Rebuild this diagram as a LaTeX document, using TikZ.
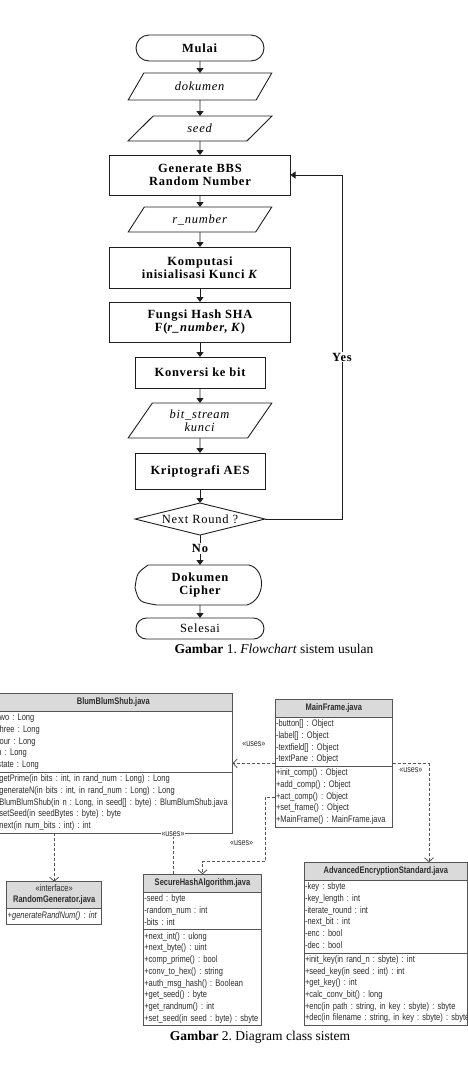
\documentclass[tikz,border=0pt]{standalone}
\usepackage{fontspec}
\setmainfont{Liberation Serif}
\newfontfamily\flowfont[LetterSpace=6]{Liberation Serif}
\newfontfamily\umlfont[FakeStretch=0.79]{Liberation Sans}
\usepackage{tikz}
\usetikzlibrary{positioning,arrows.meta,shapes.geometric,shapes.misc}
\definecolor{flowLine}{RGB}{30,30,30}
\definecolor{umlLine}{RGB}{85,85,85}
\definecolor{umlHead}{RGB}{218,218,218}
\definecolor{umlText}{RGB}{45,45,45}
\frenchspacing
\hyphenpenalty=10000
\exhyphenpenalty=10000

\begin{document}
\begin{tikzpicture}[x=1pt,y=1pt,
                  ftxt/.style={font=\flowfont\fontsize{12.5}{12.7}\selectfont,align=center,inner sep=1pt,outer sep=0pt},
                  fbold/.style={font=\flowfont\bfseries\fontsize{12.5}{12.7}\selectfont},
                  term/.style={ftxt,draw=flowLine,line width=0.9pt,rounded rectangle,minimum width=130pt},
                  io/.style={ftxt,draw=flowLine,line width=0.9pt,trapezium,trapezium stretches=true,trapezium left angle=56,trapezium right angle=124,minimum width=144pt},
                  proc/.style={ftxt,draw=flowLine,line width=0.9pt,rectangle,minimum width=#1},
                  decide/.style={ftxt,draw=flowLine,line width=0.9pt,diamond,aspect=4.5,minimum width=130pt,minimum height=32pt,inner sep=0pt},
                  flow/.style={-{Triangle[length=5pt,width=7pt]},line width=0.9pt,draw=flowLine},
                  capt/.style={font=\fontsize{13.5}{15}\selectfont,inner sep=0pt},
                  uhead/.style={draw=umlLine,fill=umlHead,line width=0.8pt,font=\umlfont\bfseries\fontsize{9.5}{11}\selectfont,text=umlText,align=center,minimum height=18pt,inner sep=1pt,outer sep=0pt,minimum width=#1},
                  ubody/.style={draw=umlLine,fill=white,line width=0.8pt,font=\umlfont\fontsize{9.5}{11.7}\selectfont,text=umlText,align=left,inner xsep=1pt,inner ysep=1.2pt,outer sep=0pt,text width=#1,execute at begin node=\strut,execute at end node=\strut},
                  uses/.style={-{Straight Barb[length=4pt,width=9pt]},draw=umlLine,line width=0.8pt,dash pattern=on 3pt off 2pt},
                  ulabel/.style={font=\umlfont\fontsize{9}{10}\selectfont,text=umlText,inner sep=0.5pt}
                ]
                \useasboundingbox (0,0) rectangle (468,-1071);

                % flowchart
                \node[term,minimum height=26pt] (mulai) at (200,-48) {\textbf{Mulai}};
                \node[io,minimum height=27pt,below=12pt of mulai] (dok) {\textit{dokumen}};
                \node[io,minimum height=25pt,below=16pt of dok] (seed) {\textit{seed}};
                \node[proc=181pt,minimum height=40pt,below=14pt of seed,fbold] (gen) {Generate BBS\\Random Number};
                \node[io,minimum height=25pt,below=12pt of gen] (rnum) {\textit{r\_number}};
                \node[proc=181pt,minimum height=41pt,below=15pt of rnum,fbold] (komp) {Komputasi\\inisialisasi Kunci \textit{K}};
                \node[proc=181pt,minimum height=40pt,below=14pt of komp,fbold] (hash) {Fungsi Hash SHA\\F(\textit{r\_number}, \textit{K})};
                \node[proc=130pt,minimum height=31pt,below=15pt of hash,fbold] (konv) {Konversi ke bit};
                \node[io,minimum height=35pt,below=15pt of konv] (bits) {\textit{bit\_stream}\\\textit{kunci}};
                \node[proc=130pt,minimum height=36pt,below=15pt of bits,fbold] (kripto) {Kriptografi AES};
                \node[decide,below=14pt of kripto] (round) {Next Round ?};
                \node[ftxt,fbold,minimum width=130pt,minimum height=40pt,below=30pt of round] (cipher) {Dokumen\\Cipher};
                \draw[flowLine,line width=0.9pt] ([xshift=13pt]cipher.north west) -- ([xshift=-16pt]cipher.north east)
                  .. controls ([xshift=1pt,yshift=-4pt]cipher.north east) and ([xshift=1pt,yshift=6pt]cipher.south east) .. ([xshift=-18pt]cipher.south east)
                  -- ([xshift=22pt]cipher.south west)
                  .. controls ([xshift=4pt,yshift=3pt]cipher.south west) .. ([yshift=-3pt]cipher.west)
                  .. controls ([xshift=2pt,yshift=-8pt]cipher.north west) .. cycle;
                \node[term,minimum height=21pt,below=13pt of cipher] (selesai) {Selesai};
                \node[capt] (cap1) at (274,-649) {\textbf{Gambar} 1. \textit{Flowchart} sistem usulan};

                \draw[flow] (mulai) -- (dok);
                \draw[flow] (dok) -- (seed);
                \draw[flow] (seed) -- (gen);
                \draw[flow] (gen) -- (rnum);
                \draw[flow] (rnum) -- (komp);
                \draw[flow] (komp) -- (hash);
                \draw[flow] (hash) -- (konv);
                \draw[flow] (konv) -- (bits);
                \draw[flow] (bits) -- (kripto);
                \draw[flow] (kripto) -- (round);
                \draw[flow] (round) -- node[ftxt,fbold,fill=white,pos=0.45] {No} (cipher.north);
                \draw[flow] (cipher.south) -- (selesai);
                \coordinate (back) at (342,-519);
                \draw[flow] (round.east) -- (round.east -| back) -- node[ftxt,fbold,fill=white,pos=0.47] {Yes} (back |- gen.east) -- (gen.east);

                % class diagram
                \node[uhead=238.7pt,anchor=north] (bbsH) at (113.35,-693.3) {BlumBlumShub.java};
                \node[ubody=236.7pt,below=0pt of bbsH] (bbsA) {-two : Long\\-three : Long\\-four : Long\\-n : Long\\-state : Long};
                \node[ubody=236.7pt,below=0pt of bbsA] (bbsO) {+getPrime(in bits : int, in rand\_num : Long) : Long\\+generateN(in bits : int, in rand\_num : Long) : Long\\+BlumBlumShub(in n : Long, in seed[] : byte) : BlumBlumShub.java\\+setSeed(in seedBytes : byte) : byte\\+next(in num\_bits : int) : int};

                \node[uhead=117.7pt,anchor=north] (mainH) at (333.85,-699.3) {MainFrame.java};
                \node[ubody=115.7pt,below=0pt of mainH] (mainA) {-button[] : Object\\-label[] : Object\\-textfield[] : Object\\-textPane : Object};
                \node[ubody=115.7pt,below=0pt of mainA] (mainO) {+init\_comp() : Object\\+add\_comp() : Object\\+act\_comp() : Object\\+set\_frame() : Object\\+MainFrame() : MainFrame.java};

                \node[uhead=95pt,anchor=north,minimum height=26.6pt] (rgH) at (54.2,-881.7) {{\mdseries «interface»}\\RandomGenerator.java};
                \node[ubody=93pt,below=0pt of rgH,minimum height=15.7pt] (rgO) {\textit{+generateRandNum() : int}};

                \node[uhead=118.4pt,anchor=north] (shaH) at (202.5,-874.3) {SecureHashAlgorithm.java};
                \node[ubody=116.4pt,below=0pt of shaH] (shaA) {-seed : byte\\-random\_num : int\\-bits : int};
                \node[ubody=116.4pt,below=0pt of shaA] (shaO) {+next\_int() : ulong\\+next\_byte() : uint\\+comp\_prime() : bool\\+conv\_to\_hex() : string\\+auth\_msg\_hash() : Boolean\\+get\_seed() : byte\\+get\_randnum() : int\\\mbox{+set\_seed(in seed : byte) : sbyte}};

                \node[uhead=163.7pt,anchor=north] (aesH) at (385.85,-862.3) {AdvancedEncryptionStandard.java};
                \node[ubody=161.7pt,below=0pt of aesH] (aesA) {-key : sbyte\\-key\_length : int\\-iterate\_round : int\\-next\_bit : int\\-enc : bool\\-dec : bool};
                \node[ubody=161.7pt,below=0pt of aesA] (aesO) {+init\_key(in rand\_n : sbyte) : int\\+seed\_key(in seed : int) : int\\+get\_key() : int\\+calc\_conv\_bit() : long\\\mbox{+enc(in path : string, in key : sbyte) : sbyte}\\\mbox{+dec(in filename : string, in key : sbyte) : sbyte}};

                \coordinate (jA) at (173,-850);
                \coordinate (jB) at (250,-763.3);
                \coordinate (jC) at (429,-763.8);
                \coordinate (jD) at (265,-861.7);
                \draw[uses] (bbsO.south -| rgH.north) -- (rgH.north);
                \draw[uses,-] (shaH.north -| jA) -- node[ulabel,pos=1,fill=white,yshift=-1pt] {«uses»} (bbsO.south -| jA);
                \draw[uses] (mainA.west |- jB) -- node[ulabel,midway,yshift=19pt] {«uses»} (bbsA.east |- jB);
                \draw[uses] (mainA.east |- jC) -- node[ulabel,midway,below=2.5pt] {«uses»} (jC) -- (aesH.north -| jC);
                \draw[uses] (mainO.west) -| node[ulabel,pos=0.855,left=11pt] {«uses»} (jD) -| (shaH.north);
                \node[capt] (cap2) at (260,-1037) {\textbf{Gambar} 2. Diagram class sistem};
                \end{tikzpicture}
\end{document}
